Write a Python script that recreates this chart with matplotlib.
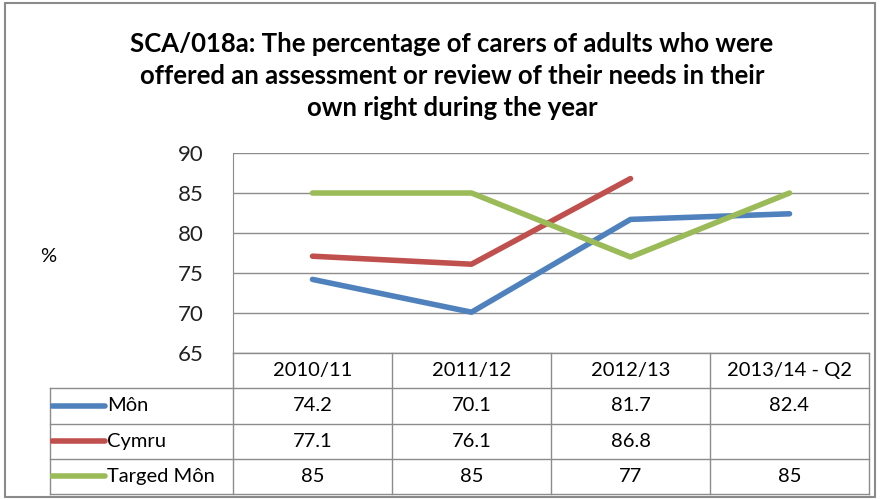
import numpy as np
import matplotlib.pyplot as plt
from matplotlib.patches import Rectangle

plt.rcParams['font.family'] = ['Lato', 'DejaVu Sans']

periods = ["2010/11", "2011/12", "2012/13", "2013/14 - Q2"]
series_names = ["Môn", "Cymru", "Targed Môn"]
mon = [74.2, 70.1, 81.7, 82.4]
cymru = [77.1, 76.1, 86.8, np.nan]
targed_mon = [85, 85, 77, 85]
series_values = [mon, cymru, targed_mon]
colors = ["#4F81BD", "#C0504D", "#9BBB59"]
y_ticks = [65, 70, 75, 80, 85, 90]

title = ("SCA/018a: The percentage of carers of adults who were\n"
         "offered an assessment or review of their needs in their\n"
         "own right during the year")

W, H = 881, 500
fig = plt.figure(figsize=(W / 100, H / 100), dpi=100)
grid_col = "#8c8c8c"

# outer chart frame
fig.patches.append(Rectangle((5 / W, 3 / H), 870 / W, 494 / H, transform=fig.transFigure,
                             fill=False, edgecolor="#8a8a8a", linewidth=1.5))

fig.text(452 / W, 1 - 76 / H, title, ha="center", va="center", fontsize=18.5,
         fontweight="bold", linespacing=1.42)
fig.text(48 / W, 1 - 256 / H, "%", ha="center", va="center", fontsize=14.5)

# plot area
ax = fig.add_axes([233 / W, 147 / H, 636 / W, 200 / H])
x = np.arange(len(periods))
for vals, c in zip(series_values, colors):
    ax.plot(x, vals, color=c, linewidth=4, solid_capstyle="round", solid_joinstyle="round")
ax.set_xlim(-0.5, len(periods) - 0.5)
ax.set_ylim(65, 90)
ax.set_yticks(y_ticks)
ax.set_xticks([])
ax.tick_params(axis="y", length=0, pad=21, labelsize=16, labelcolor="#222222")
ax.grid(axis="y", color=grid_col, linewidth=1)
ax.set_axisbelow(True)
for s in ["top", "right", "bottom"]:
    ax.spines[s].set_visible(False)
ax.spines["left"].set_color(grid_col)

# data table underneath
col_w = 636 / len(periods)
label_w = (233 - 50) / col_w
tab = fig.add_axes([50 / W, 6 / H, 819 / W, 141 / H])
tab.set_xlim(-0.5 - label_w, len(periods) - 0.5)
tab.set_ylim(4, 0)
tab.axis("off")
lk = dict(color=grid_col, linewidth=1, clip_on=False)
x0 = -0.5 - label_w
xr = len(periods) - 0.5
# horizontal lines
tab.plot([-0.5, xr], [0, 0], **lk)
for r in range(1, 5):
    tab.plot([x0, xr], [r, r], **lk)
# vertical lines
tab.plot([x0, x0], [1, 4], **lk)
for i in range(len(periods) + 1):
    tab.plot([i - 0.5, i - 0.5], [0, 4], **lk)

fs = 14.5
for i, p in enumerate(periods):
    tab.text(i, 0.5, p, ha="center", va="center", fontsize=fs)

for r, (name, vals, c) in enumerate(zip(series_names, series_values, colors), start=1):
    tab.plot([x0 + 2 / col_w, x0 + 55 / col_w], [r + 0.5, r + 0.5], color=c,
             linewidth=4, solid_capstyle="round")
    tab.text(x0 + 57 / col_w, r + 0.5, name, ha="left", va="center", fontsize=fs)
    for i, v in enumerate(vals):
        if not np.isnan(v):
            tab.text(i, r + 0.5, f"{v:g}", ha="center", va="center", fontsize=fs)

fig.savefig("out.png", dpi=100)
